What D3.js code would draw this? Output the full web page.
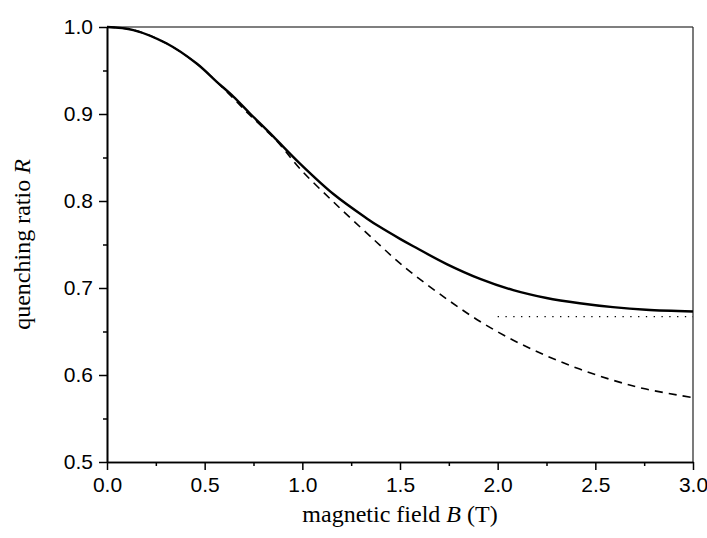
<!DOCTYPE html>
<html>
<head>
<meta charset="utf-8">
<script src="https://cdn.jsdelivr.net/npm/d3@7"></script>
<style>
  body { margin: 0; background: #fff; }
  svg { display: block; }
</style>
</head>
<body>
<script>
  // solid curve: quenching ratio R vs field B
  const solidB = [0, 0.135, 0.306, 0.459, 0.562, 0.647, 0.732, 0.852, 0.988, 1.159, 1.33, 1.398, 1.5, 1.568, 1.739, 1.91, 2.08, 2.25, 2.42, 2.59, 2.76, 3.0];
  const solidR = [1.0, 0.9965, 0.981, 0.958, 0.937, 0.920, 0.9006, 0.874, 0.843, 0.808, 0.780, 0.770, 0.7565, 0.748, 0.7275, 0.7105, 0.6975, 0.6885, 0.6825, 0.678, 0.675, 0.673];

  // dashed curve
  const dashB = [0, 0.135, 0.306, 0.459, 0.562, 0.647, 0.732, 0.869, 0.988, 1.159, 1.33, 1.398, 1.466, 1.568, 1.739, 1.91, 2.08, 2.25, 2.42, 2.59, 2.76, 3.0];
  const dashR = [1.0, 0.9965, 0.981, 0.958, 0.937, 0.918, 0.8985, 0.869, 0.837, 0.799, 0.763, 0.749, 0.735, 0.716, 0.6874, 0.6615, 0.640, 0.622, 0.6068, 0.594, 0.5838, 0.574];

  // dotted asymptote
  const dotB = [2.0, 3.0];
  const dotR = [0.667, 0.667];

  const xTicks = [0, 0.5, 1.0, 1.5, 2.0, 2.5, 3.0];
  const xMinor = [0.25, 0.75, 1.25, 1.75, 2.25, 2.75];
  const yTicks = [0.5, 0.6, 0.7, 0.8, 0.9, 1.0];
  const yMinor = [0.55, 0.65, 0.75, 0.85, 0.95];

  const width = 707;
  const height = 538;
  const margin = {top: 27, right: 14, bottom: 76, left: 107};
  const w = width - margin.left - margin.right;
  const h = height - margin.top - margin.bottom;

  const svg = d3.select('body')
    .append('svg')
    .attr('width', width)
    .attr('height', height);

  const g = svg.append('g')
    .attr('transform', `translate(${margin.left},${margin.top})`);

  const x = d3.scaleLinear().domain([0, 3]).range([0, w]);
  const y = d3.scaleLinear().domain([0.5, 1.0]).range([h, 0]);

  const zip = (bs, rs) => bs.map((b, i) => [b, rs[i]]);

  const line = d3.line()
    .x(d => x(d[0]))
    .y(d => y(d[1]))
    .curve(d3.curveCatmullRom.alpha(0.5));

  // frame (top / right)
  g.append('line')
    .attr('x1', 0).attr('x2', w).attr('y1', 0).attr('y2', 0)
    .attr('stroke', '#555').attr('stroke-width', 1.3);
  g.append('line')
    .attr('x1', w).attr('x2', w).attr('y1', 0).attr('y2', h)
    .attr('stroke', '#333').attr('stroke-width', 1.3);

  // curves
  g.append('path')
    .datum(zip(dashB, dashR))
    .attr('fill', 'none')
    .attr('stroke', '#000')
    .attr('stroke-width', 1.6)
    .attr('stroke-dasharray', '8,6')
    .attr('d', line);

  g.append('path')
    .datum(zip(dotB, dotR))
    .attr('fill', 'none')
    .attr('stroke', '#000')
    .attr('stroke-width', 1.3)
    .attr('stroke-dasharray', '1.3,6.5')
    .attr('d', line);

  g.append('path')
    .datum(zip(solidB, solidR))
    .attr('fill', 'none')
    .attr('stroke', '#000')
    .attr('stroke-width', 2.4)
    .attr('d', line);

  // axes
  g.append('g')
    .attr('transform', `translate(0,${h})`)
    .call(d3.axisBottom(x).tickValues(xTicks).tickFormat(d3.format('.1f')).tickSize(8).tickSizeOuter(0).tickPadding(7));
  g.append('g')
    .attr('transform', `translate(0,${h})`)
    .call(d3.axisBottom(x).tickValues(xMinor).tickFormat('').tickSize(4).tickSizeOuter(0));

  g.append('g')
    .call(d3.axisLeft(y).tickValues(yTicks).tickFormat(d3.format('.1f')).tickSize(8).tickSizeOuter(0).tickPadding(6));
  g.append('g')
    .call(d3.axisLeft(y).tickValues(yMinor).tickFormat('').tickSize(4).tickSizeOuter(0));

  g.selectAll('.domain').attr('stroke', '#000').attr('stroke-width', 1.6);
  g.selectAll('.tick line').attr('stroke', '#000').attr('stroke-width', 1.5);
  g.selectAll('.tick text')
    .attr('fill', '#000')
    .style('font-family', '"Liberation Sans", Arial, sans-serif')
    .style('font-size', '21px');

  // axis titles
  const xt = svg.append('text')
    .attr('x', margin.left + w / 2)
    .attr('y', 522)
    .attr('text-anchor', 'middle')
    .style('font-family', '"Liberation Serif", "Times New Roman", serif')
    .style('font-size', '24px');
  xt.append('tspan').text('magnetic field ');
  xt.append('tspan').style('font-style', 'italic').text('B');
  xt.append('tspan').text(' (T)');

  const yt = svg.append('text')
    .attr('transform', `translate(30,${margin.top + h / 2}) rotate(-90)`)
    .attr('text-anchor', 'middle')
    .style('font-family', '"Liberation Serif", "Times New Roman", serif')
    .style('font-size', '24px');
  yt.append('tspan').text('quenching ratio ');
  yt.append('tspan').style('font-style', 'italic').text('R');
</script>
</body>
</html>
